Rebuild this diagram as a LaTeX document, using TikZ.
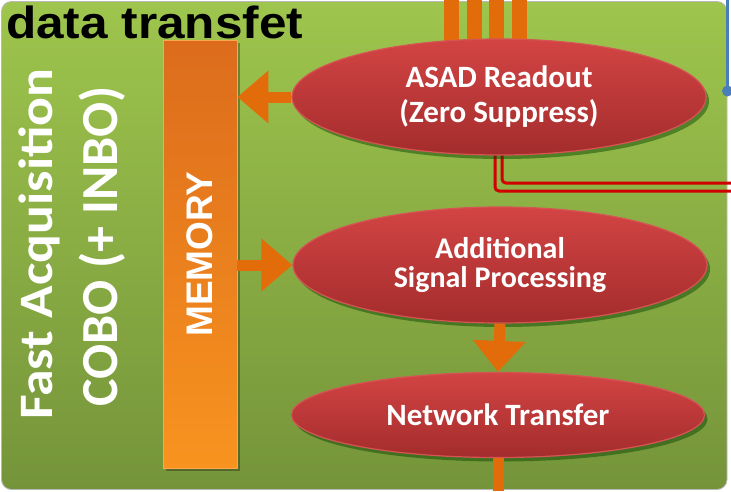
\documentclass[tikz,border=0pt]{standalone}
\usepackage{fontspec}
\usepackage{graphicx}
\setmainfont{Carlito}
\newfontfamily\arialfont{Liberation Sans}
\usetikzlibrary{shapes.geometric,arrows.meta,shadows}
\definecolor{grtop}{HTML}{9EC54D}
\definecolor{grbot}{HTML}{75943A}
\definecolor{elltop}{HTML}{D34444}
\definecolor{ellbot}{HTML}{A42C2C}
\definecolor{ellborder}{HTML}{D65454}
\definecolor{arrorange}{HTML}{E36C0A}
\definecolor{memtop}{HTML}{DC6C1C}
\definecolor{membot}{HTML}{F8931F}
\definecolor{redln}{HTML}{D00000}
\definecolor{blueln}{HTML}{4A7EBB}
\pgfdeclarelayer{bg}
\pgfsetlayers{bg,main}
\begin{document}
\begin{tikzpicture}[x=1pt,y=-1pt,
  ell/.style={ellipse, draw=ellborder, line width=1.2pt, top color=elltop, bottom color=ellbot,
    text=white, align=center, inner sep=0pt, minimum width=414pt, minimum height=116pt,
    drop shadow={shadow xshift=3pt, shadow yshift=-4pt, opacity=0.45, fill=black!75!green}},
  elltext/.style={font=\bfseries\fontsize{31}{35}\selectfont},
  bigarrow/.style={draw=arrorange, line width=11pt, -{Triangle[width=51pt,length=31pt]}},
  smallshaft/.style={draw=arrorange, line width=11pt},
  topbar/.style={draw=arrorange, line width=15pt},
  redline/.style={draw=redln, line width=3pt, rounded corners=4pt},
  membar/.style={rectangle, draw=orange!70!white, line width=0.8pt, top color=memtop, bottom color=membot,
    minimum width=74pt, minimum height=428pt, inner sep=0pt, text=white,
    font=\arialfont\bfseries\fontsize{37}{40}\selectfont,
    drop shadow={shadow xshift=3pt, shadow yshift=-3pt, opacity=0.3, fill=black}},
  sidetext/.style={text=white, inner sep=0pt, rotate=90, anchor=base west, font=\bfseries}
]
\useasboundingbox (0,0) rectangle (731,491);

% memory bar
\node[membar] (mem) at (200,254) {\rotatebox{90}{MEMORY}};

% process ellipses
\node[ell, elltext] (asad) at (499,97) {ASAD Readout\\(Zero Suppress)};
\node[ell, font=\bfseries\fontsize{30}{29}\selectfont] (addl) at (500,265) {Additional\\Signal Processing};
\node[ell, elltext, minimum width=413pt, minimum height=85pt] (net) at (498,415) {Network Transfer};

% title and side texts
\node[anchor=base west, inner sep=0pt, text=black] (title) at (6,38)
  {\scalebox{1.1}[1]{\arialfont\bfseries\fontsize{45}{48}\selectfont data transfet}};
\node[sidetext] (fast) at (52,420) {\scalebox{1.12}[1]{\fontsize{48}{50}\selectfont Fast Acquisition}};
\node[sidetext] (cobo) at (117,407) {\fontsize{52}{54}\selectfont COBO (+ INBO)};

% block arrows
\draw[bigarrow] (asad.west) -- (asad.west -| mem.east);
\draw[bigarrow] (mem.east |- addl.west) -- (addl.west);
\draw[bigarrow] (addl.south) -- (net.north);
\coordinate (netout) at (498,491);
\draw[smallshaft] (net.south) -- (netout);

% background layer: panel, bus bars, red lines, blue line
\begin{pgfonlayer}{bg}
  \fill[white] (0,0) rectangle (731,491);
  \draw[draw=gray!55, line width=0.8pt, top color=grtop, bottom color=grbot, rounded corners=10pt]
    (1.5,1.5) rectangle (727,489.5);
  \foreach \xx/\nm in {451.5/b1, 474.5/b2, 496.5/b3, 519.5/b4} {
    \coordinate (\nm) at (\xx,0);
    \draw[topbar] (\nm) -- (\nm |- asad.center);
  }
  \coordinate (rr1) at (731,191);
  \coordinate (rr2) at (731,183);
  \draw[redline] ([xshift=-4pt]asad.center) |- (rr1);
  \draw[redline] ([xshift=3pt]asad.center) |- (rr2);
\end{pgfonlayer}
\coordinate (btop) at (727.5,0);
\coordinate (bdot) at (727.5,91);
\draw[blueln, line width=3pt] (btop) -- (bdot);
\fill[blueln] (bdot) circle (5.5pt);
\end{tikzpicture}
\end{document}
